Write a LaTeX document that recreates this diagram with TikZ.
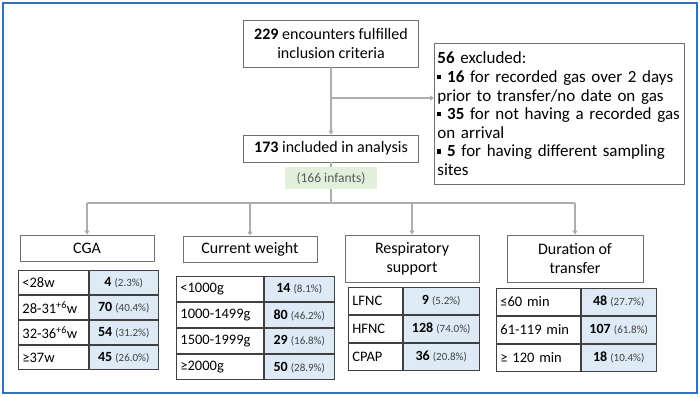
\documentclass[tikz,border=0pt]{standalone}
\usepackage{fontspec}
\setmainfont{Carlito}
\usetikzlibrary{arrows.meta}
\definecolor{frameblue}{HTML}{3470BC}
\definecolor{linegray}{HTML}{ADADAD}
\definecolor{boxgray}{HTML}{707070}
\definecolor{cellgray}{HTML}{404040}
\definecolor{cellblue}{HTML}{DEEAF6}
\definecolor{infgreen}{HTML}{E2EFDA}
\definecolor{pctgray}{HTML}{404040}
\newcommand{\sqbul}{\rule[0.2em]{0.24em}{0.24em}}
\newcommand{\pct}[1]{{\fontsize{11}{12}\selectfont\color{pctgray}(#1\%)}}
\tikzset{
  flowbox/.style={draw=boxgray,line width=0.8pt,fill=white,align=center,inner sep=0pt,font=\fontsize{16}{19}\selectfont},
  flowline/.style={draw=linegray,line width=1.2pt},
  flowarrow/.style={flowline,-{Triangle[width=5pt,length=4pt]}},
  lcell/.style n args={2}{draw=cellgray,line width=0.8pt,anchor=north west,text width=#1,minimum height=#2,inner xsep=4pt,inner ysep=0pt,align=left,font=\fontsize{14.5}{16}\selectfont},
  rcell/.style n args={2}{draw=cellgray,line width=0.8pt,fill=cellblue,anchor=north west,minimum width=#1,minimum height=#2,inner sep=0pt,font=\fontsize{14}{16}\selectfont},
}
\begin{document}
\begin{tikzpicture}[x=1pt,y=-1pt]
    %% Frame
    \useasboundingbox (0,0) rectangle (700,396);
    \fill[white] (0,0) rectangle (700,396);
    \draw[frameblue,line width=1.5pt] (3,3) rectangle (697,393);
    %% Flow boxes
    \node[flowbox,minimum width=175pt,minimum height=47pt] (enc) at (331,43.5) {\textbf{229} encounters fulfilled\\inclusion criteria};
    \node[flowbox,minimum width=175pt,minimum height=27pt] (incl) at (331,148.5) {\textbf{173} included in analysis};
    \node[flowbox,anchor=north west,align=left,text width=244pt,minimum height=141pt,inner xsep=3pt,font=\fontsize{17}{18.6}\selectfont] (excl) at (434,43) {\textbf{56} excluded:\\
        \sqbul\ \textbf{16} for recorded gas over 2 days\\
        prior to transfer/no date on gas\\
        \sqbul\ \textbf{35} for not having a recorded gas\\
        on arrival\\
        \sqbul\ \textbf{5} for having different sampling\\
        sites};
    %% Headers
    \node[flowbox,minimum width=134pt,minimum height=26pt] (cga) at (87,248) {CGA};
    \node[flowbox,minimum width=134pt,minimum height=26pt] (wgt) at (250,249) {Current weight};
    \node[flowbox,minimum width=134pt,minimum height=47pt] (resp) at (412,258.5) {Respiratory\\support};
    \node[flowbox,minimum width=136pt,minimum height=47pt] (dur) at (575,258.5) {Duration of\\transfer};
    %% Connectors
    \coordinate (exj) at (331,98);
    \coordinate (brj) at (331,203);
    \draw[flowarrow] (enc.south) -- (incl.north);
    \draw[flowarrow] (exj) -- (exj -| excl.west);
    \draw[flowline] (incl.south) -- (brj);
    \draw[flowline] (brj -| cga.north) -- (brj -| dur.north);
    \draw[flowarrow] (brj -| cga.north) -- (cga.north);
    \draw[flowarrow] (brj -| wgt.north) -- (wgt.north);
    \draw[flowarrow] (brj -| resp.north) -- (resp.north);
    \draw[flowarrow] (brj -| dur.north) -- (dur.north);
    \node[fill=infgreen,minimum width=92pt,minimum height=22pt,inner sep=0pt,text=boxgray!80!black,font=\fontsize{13.5}{15}\selectfont] (inf) at (331,178) {(166 infants)};
    %% CGA table
    \node[lcell={62pt}{24.25pt}] (cgaA) at (18,270) {<28w};
    \node[rcell={69pt}{24.25pt}] at (cgaA.north east) {\textbf{4} \pct{2.3}};
    \node[lcell={62pt}{24.25pt}] (cgaB) at (cgaA.south west) {28-31\textsuperscript{+6}w};
    \node[rcell={69pt}{24.25pt}] at (cgaB.north east) {\textbf{70} \pct{40.4}};
    \node[lcell={62pt}{24.25pt}] (cgaC) at (cgaB.south west) {32-36\textsuperscript{+6}w};
    \node[rcell={69pt}{24.25pt}] at (cgaC.north east) {\textbf{54} \pct{31.2}};
    \node[lcell={62pt}{24.25pt}] (cgaD) at (cgaC.south west) {≥37w};
    \node[rcell={69pt}{24.25pt}] at (cgaD.north east) {\textbf{45} \pct{26.0}};
    %% Weight table
    \node[lcell={79pt}{25.25pt}] (wgtA) at (176,276) {<1000g};
    \node[rcell={70pt}{25.25pt}] at (wgtA.north east) {\textbf{14} \pct{8.1}};
    \node[lcell={79pt}{25.25pt}] (wgtB) at (wgtA.south west) {1000-1499g};
    \node[rcell={70pt}{25.25pt}] at (wgtB.north east) {\textbf{80} \pct{46.2}};
    \node[lcell={79pt}{25.25pt}] (wgtC) at (wgtB.south west) {1500-1999g};
    \node[rcell={70pt}{25.25pt}] at (wgtC.north east) {\textbf{29} \pct{16.8}};
    \node[lcell={79pt}{25.25pt}] (wgtD) at (wgtC.south west) {≥2000g};
    \node[rcell={70pt}{25.25pt}] at (wgtD.north east) {\textbf{50} \pct{28.9}};
    %% Respiratory table
    \node[lcell={46pt}{27pt}] (respA) at (348,287) {LFNC};
    \node[rcell={76pt}{27pt}] at (respA.north east) {\textbf{9} \pct{5.2}};
    \node[lcell={46pt}{27pt}] (respB) at (respA.south west) {HFNC};
    \node[rcell={76pt}{27pt}] at (respB.north east) {\textbf{128} \pct{74.0}};
    \node[lcell={46pt}{27pt}] (respC) at (respB.south west) {CPAP};
    \node[rcell={76pt}{27pt}] at (respC.north east) {\textbf{36} \pct{20.8}};
    %% Duration table
    \node[lcell={76pt}{27pt}] (durA) at (496,288) {≤60 min};
    \node[rcell={75pt}{27pt}] at (durA.north east) {\textbf{48} \pct{27.7}};
    \node[lcell={76pt}{27pt}] (durB) at (durA.south west) {61-119 min};
    \node[rcell={75pt}{27pt}] at (durB.north east) {\textbf{107} \pct{61.8}};
    \node[lcell={76pt}{27pt}] (durC) at (durB.south west) {≥ 120 min};
    \node[rcell={75pt}{27pt}] at (durC.north east) {\textbf{18} \pct{10.4}};
\end{tikzpicture}
\end{document}
